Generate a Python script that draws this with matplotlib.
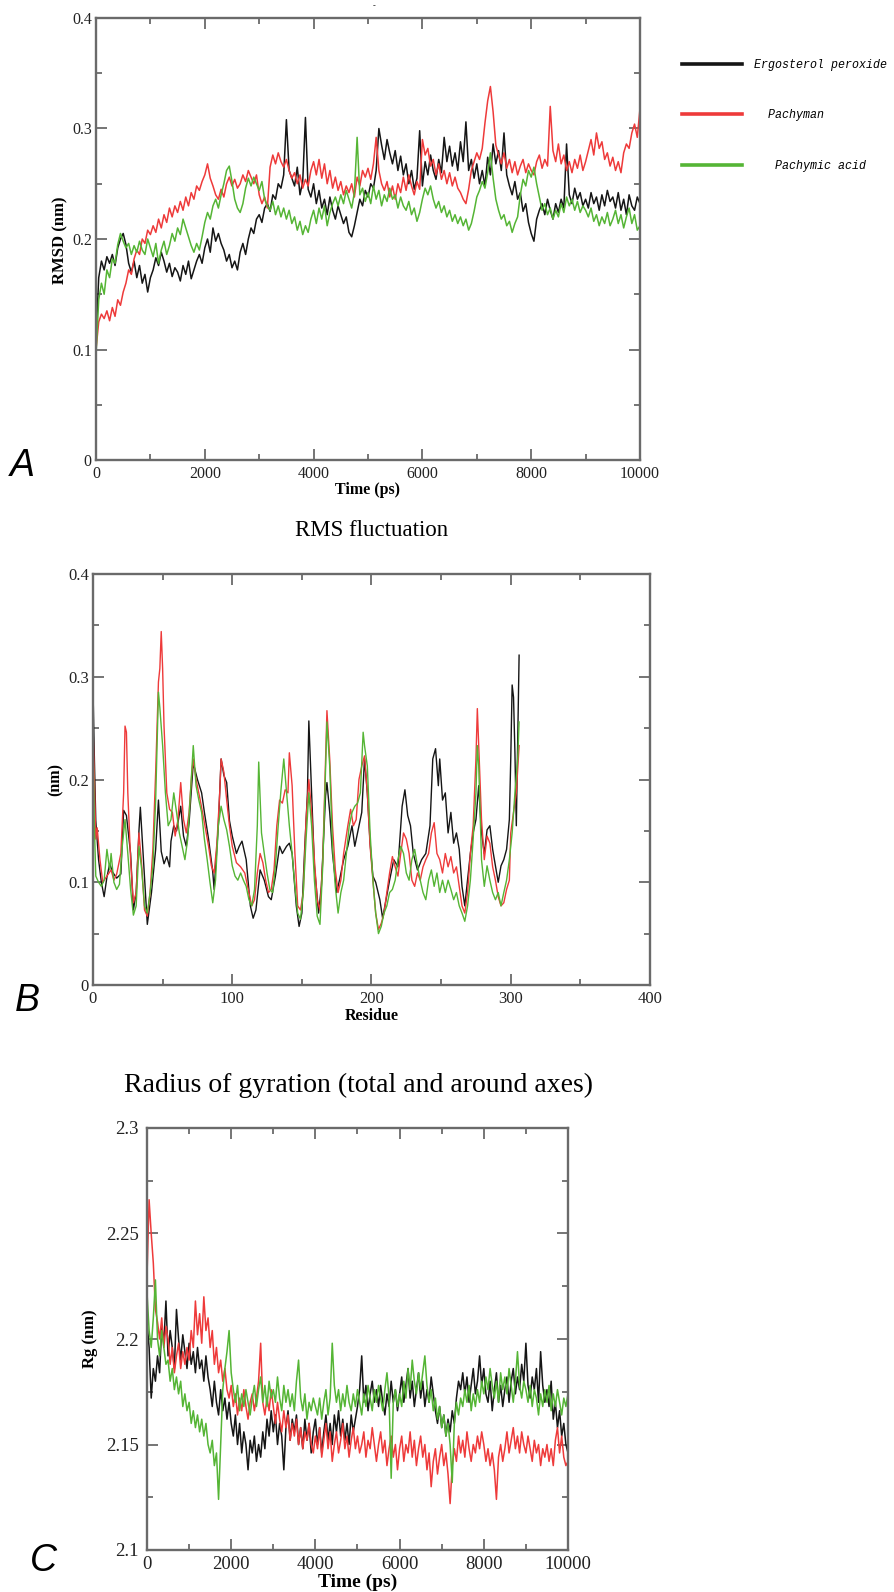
import numpy as np
import matplotlib
matplotlib.use("Agg")
import matplotlib.pyplot as plt
from matplotlib.ticker import MultipleLocator, FuncFormatter

W, H = 895, 1592

# ---------------- data ----------------
series_names = ["Ergosterol peroxide", "Pachyman", "Pachymic acid"]
series_colors = ["#151515", "#ee3a3a", "#55b535"]

# Panel A: RMSD (nm), one value every 50 ps from 0 to 10000 ps
rmsd_ergosterol = [
    0.110, 0.165, 0.180, 0.172, 0.184, 0.178, 0.186, 0.176, 0.192, 0.200,
    0.205, 0.195, 0.178, 0.170, 0.180, 0.165, 0.176, 0.160, 0.168, 0.152,
    0.165, 0.172, 0.183, 0.176, 0.188, 0.180, 0.170, 0.178, 0.166, 0.174,
    0.170, 0.162, 0.176, 0.168, 0.180, 0.164, 0.172, 0.180, 0.186, 0.178,
    0.192, 0.200, 0.188, 0.210, 0.198, 0.205, 0.196, 0.190, 0.180, 0.186,
    0.174, 0.180, 0.172, 0.188, 0.196, 0.186, 0.200, 0.210, 0.205, 0.218,
    0.222, 0.215, 0.228, 0.232, 0.225, 0.240, 0.236, 0.250, 0.246, 0.258,
    0.308, 0.262, 0.255, 0.248, 0.265, 0.240, 0.252, 0.310, 0.245, 0.238,
    0.250, 0.232, 0.244, 0.228, 0.236, 0.222, 0.238, 0.226, 0.218, 0.230,
    0.222, 0.214, 0.220, 0.206, 0.202, 0.212, 0.224, 0.236, 0.230, 0.244,
    0.238, 0.250, 0.246, 0.262, 0.300, 0.285, 0.272, 0.290, 0.278, 0.268,
    0.280, 0.262, 0.275, 0.258, 0.268, 0.250, 0.262, 0.245, 0.255, 0.298,
    0.248, 0.270, 0.258, 0.276, 0.262, 0.254, 0.272, 0.260, 0.292, 0.270,
    0.284, 0.266, 0.278, 0.262, 0.288, 0.270, 0.306, 0.262, 0.272, 0.255,
    0.268, 0.250, 0.262, 0.248, 0.274, 0.258, 0.286, 0.268, 0.280, 0.262,
    0.296, 0.258, 0.248, 0.240, 0.252, 0.236, 0.242, 0.225, 0.232, 0.215,
    0.205, 0.198, 0.218, 0.226, 0.232, 0.222, 0.236, 0.226, 0.218, 0.232,
    0.224, 0.236, 0.228, 0.286, 0.240, 0.232, 0.246, 0.236, 0.242, 0.230,
    0.236, 0.228, 0.242, 0.232, 0.238, 0.226, 0.240, 0.230, 0.244, 0.234,
    0.238, 0.228, 0.242, 0.226, 0.236, 0.222, 0.240, 0.230, 0.226, 0.238,
    0.232,
]
rmsd_pachyman = [
    0.100, 0.125, 0.132, 0.128, 0.135, 0.126, 0.138, 0.130, 0.145, 0.140,
    0.152, 0.160, 0.172, 0.168, 0.182, 0.190, 0.186, 0.200, 0.196, 0.208,
    0.204, 0.212, 0.206, 0.218, 0.210, 0.222, 0.215, 0.228, 0.220, 0.230,
    0.224, 0.234, 0.226, 0.238, 0.230, 0.242, 0.236, 0.248, 0.244, 0.252,
    0.258, 0.268, 0.255, 0.248, 0.240, 0.236, 0.245, 0.238, 0.250, 0.256,
    0.248, 0.254, 0.246, 0.250, 0.258, 0.252, 0.262, 0.256, 0.250, 0.258,
    0.240, 0.232, 0.238, 0.228, 0.265, 0.276, 0.268, 0.278, 0.270, 0.265,
    0.272, 0.262, 0.255, 0.260, 0.250, 0.258, 0.246, 0.254, 0.248, 0.262,
    0.270, 0.258, 0.272, 0.255, 0.268, 0.250, 0.262, 0.246, 0.256, 0.244,
    0.252, 0.240, 0.248, 0.242, 0.250, 0.238, 0.256, 0.248, 0.262, 0.256,
    0.264, 0.254, 0.268, 0.292, 0.262, 0.250, 0.244, 0.252, 0.238, 0.248,
    0.236, 0.250, 0.242, 0.256, 0.244, 0.258, 0.248, 0.240, 0.252, 0.245,
    0.290, 0.276, 0.282, 0.266, 0.272, 0.258, 0.268, 0.254, 0.262, 0.250,
    0.260, 0.248, 0.256, 0.246, 0.242, 0.236, 0.232, 0.245, 0.262, 0.270,
    0.278, 0.272, 0.282, 0.305, 0.325, 0.338, 0.315, 0.285, 0.276, 0.268,
    0.278, 0.264, 0.272, 0.260, 0.270, 0.258, 0.266, 0.272, 0.260, 0.268,
    0.262, 0.258, 0.270, 0.276, 0.264, 0.272, 0.266, 0.320, 0.280, 0.270,
    0.286, 0.268, 0.276, 0.262, 0.270, 0.260, 0.272, 0.264, 0.276, 0.262,
    0.270, 0.280, 0.290, 0.276, 0.296, 0.282, 0.288, 0.272, 0.278, 0.266,
    0.274, 0.262, 0.270, 0.260, 0.278, 0.286, 0.282, 0.296, 0.304, 0.292,
    0.318,
]
rmsd_pachymic = [
    0.095, 0.145, 0.160, 0.150, 0.172, 0.165, 0.182, 0.178, 0.195, 0.205,
    0.198, 0.192, 0.196, 0.186, 0.194, 0.188, 0.198, 0.190, 0.186, 0.200,
    0.192, 0.184, 0.196, 0.178, 0.190, 0.198, 0.186, 0.194, 0.205, 0.198,
    0.210, 0.204, 0.218, 0.210, 0.202, 0.194, 0.188, 0.196, 0.190, 0.202,
    0.215, 0.224, 0.218, 0.230, 0.236, 0.228, 0.240, 0.250, 0.262, 0.266,
    0.252, 0.236, 0.228, 0.224, 0.232, 0.246, 0.255, 0.248, 0.256, 0.250,
    0.244, 0.252, 0.236, 0.230, 0.226, 0.234, 0.222, 0.230, 0.220, 0.228,
    0.218, 0.226, 0.214, 0.220, 0.208, 0.216, 0.204, 0.212, 0.206, 0.218,
    0.226, 0.214, 0.228, 0.218, 0.230, 0.212, 0.224, 0.232, 0.238, 0.230,
    0.240, 0.232, 0.244, 0.236, 0.228, 0.242, 0.292, 0.240, 0.246, 0.234,
    0.242, 0.232, 0.248, 0.236, 0.244, 0.230, 0.240, 0.234, 0.246, 0.236,
    0.240, 0.228, 0.238, 0.230, 0.226, 0.234, 0.222, 0.228, 0.216, 0.224,
    0.236, 0.246, 0.240, 0.248, 0.236, 0.228, 0.234, 0.224, 0.230, 0.220,
    0.226, 0.216, 0.222, 0.214, 0.220, 0.212, 0.218, 0.208, 0.214, 0.225,
    0.238, 0.244, 0.252, 0.246, 0.260, 0.278, 0.255, 0.236, 0.226, 0.218,
    0.222, 0.212, 0.216, 0.206, 0.214, 0.220, 0.240, 0.254, 0.248, 0.262,
    0.256, 0.265, 0.250, 0.238, 0.226, 0.232, 0.222, 0.228, 0.218, 0.226,
    0.220, 0.232, 0.224, 0.238, 0.230, 0.236, 0.226, 0.234, 0.224, 0.230,
    0.226, 0.220, 0.228, 0.216, 0.222, 0.212, 0.220, 0.214, 0.224, 0.212,
    0.218, 0.226, 0.214, 0.222, 0.210, 0.220, 0.228, 0.214, 0.222, 0.208,
    0.212,
]

# Panel B: RMSF (nm) as (residue, value) pairs
rmsf_ergosterol = [
    (0, 0.288), (1, 0.220), (2, 0.160), (4, 0.122), (6, 0.100), (8, 0.086),
    (10, 0.105), (12, 0.118), (14, 0.110), (17, 0.104), (20, 0.108), (22, 0.170),
    (24, 0.165), (27, 0.128), (29, 0.073), (31, 0.090), (33, 0.150), (34, 0.173),
    (36, 0.128), (39, 0.059), (42, 0.090), (45, 0.132), (47, 0.180), (49, 0.130),
    (51, 0.118), (53, 0.125), (55, 0.115), (56, 0.140), (58, 0.155), (60, 0.150),
    (63, 0.174), (65, 0.145), (67, 0.135), (69, 0.158), (72, 0.216), (75, 0.200),
    (78, 0.187), (80, 0.168), (83, 0.142), (86, 0.110), (87, 0.093), (90, 0.155),
    (92, 0.220), (94, 0.204), (96, 0.197), (98, 0.160), (100, 0.145), (103, 0.128),
    (105, 0.135), (107, 0.140), (110, 0.122), (113, 0.077), (115, 0.065), (117, 0.073),
    (120, 0.112), (123, 0.102), (126, 0.086), (128, 0.083), (131, 0.106), (134, 0.135),
    (136, 0.128), (139, 0.135), (141, 0.138), (143, 0.128), (146, 0.077), (148, 0.057),
    (150, 0.070), (152, 0.132), (154, 0.187), (155, 0.257), (157, 0.187), (159, 0.116),
    (162, 0.070), (164, 0.096), (167, 0.184), (168, 0.197), (170, 0.168), (172, 0.128),
    (175, 0.090), (177, 0.102), (180, 0.122), (183, 0.135), (186, 0.155), (188, 0.135),
    (190, 0.148), (193, 0.168), (195, 0.220), (197, 0.187), (199, 0.138), (201, 0.106),
    (203, 0.100), (206, 0.083), (208, 0.065), (210, 0.080), (213, 0.102), (216, 0.122),
    (219, 0.115), (222, 0.174), (224, 0.190), (226, 0.165), (228, 0.155), (230, 0.128),
    (233, 0.112), (236, 0.122), (239, 0.128), (242, 0.155), (244, 0.220), (246, 0.230),
    (248, 0.194), (249, 0.220), (251, 0.180), (253, 0.187), (255, 0.148), (257, 0.168),
    (259, 0.138), (261, 0.148), (263, 0.132), (265, 0.096), (267, 0.077), (269, 0.102),
    (271, 0.128), (273, 0.148), (275, 0.161), (277, 0.194), (279, 0.148), (281, 0.128),
    (283, 0.151), (285, 0.155), (287, 0.132), (289, 0.116), (291, 0.100), (293, 0.116),
    (295, 0.122), (297, 0.132), (299, 0.161), (300, 0.220), (301, 0.292), (302, 0.280),
    (303, 0.226), (304, 0.155), (305, 0.240), (306, 0.321),
]
rmsf_pachyman = [
    (0, 0.252), (1, 0.200), (2, 0.142), (3, 0.153), (5, 0.122), (7, 0.100),
    (10, 0.106), (13, 0.112), (15, 0.102), (17, 0.108), (20, 0.128), (22, 0.187),
    (23, 0.252), (24, 0.246), (25, 0.187), (27, 0.122), (29, 0.080), (31, 0.090),
    (33, 0.148), (35, 0.116), (37, 0.073), (39, 0.067), (41, 0.090), (43, 0.132),
    (45, 0.207), (46, 0.252), (47, 0.295), (48, 0.308), (49, 0.344), (50, 0.308),
    (51, 0.252), (53, 0.187), (55, 0.171), (57, 0.168), (59, 0.145), (61, 0.161),
    (63, 0.197), (65, 0.161), (67, 0.148), (69, 0.168), (71, 0.207), (72, 0.220),
    (74, 0.200), (77, 0.180), (80, 0.158), (83, 0.135), (85, 0.116), (87, 0.109),
    (89, 0.138), (91, 0.187), (92, 0.220), (94, 0.207), (96, 0.180), (98, 0.155),
    (100, 0.135), (103, 0.119), (106, 0.115), (109, 0.109), (112, 0.090), (114, 0.077),
    (116, 0.083), (118, 0.109), (120, 0.128), (122, 0.119), (124, 0.102), (126, 0.090),
    (128, 0.093), (130, 0.112), (132, 0.155), (134, 0.180), (136, 0.177), (138, 0.190),
    (140, 0.187), (141, 0.226), (143, 0.194), (145, 0.128), (147, 0.077), (149, 0.073),
    (151, 0.090), (153, 0.161), (155, 0.200), (157, 0.168), (159, 0.122), (161, 0.083),
    (163, 0.073), (165, 0.122), (167, 0.220), (168, 0.267), (170, 0.220), (172, 0.155),
    (174, 0.112), (176, 0.090), (178, 0.102), (180, 0.128), (183, 0.155), (185, 0.171),
    (187, 0.155), (189, 0.161), (191, 0.200), (193, 0.213), (195, 0.223), (197, 0.187),
    (199, 0.135), (201, 0.102), (203, 0.070), (205, 0.054), (207, 0.060), (209, 0.070),
    (211, 0.090), (213, 0.109), (215, 0.125), (217, 0.115), (219, 0.106), (221, 0.128),
    (223, 0.148), (225, 0.142), (227, 0.128), (229, 0.102), (231, 0.096), (233, 0.109),
    (235, 0.102), (237, 0.115), (239, 0.122), (241, 0.128), (243, 0.148), (245, 0.158),
    (247, 0.128), (249, 0.122), (251, 0.109), (253, 0.128), (255, 0.115), (257, 0.125),
    (259, 0.109), (261, 0.115), (263, 0.096), (265, 0.077), (267, 0.070), (269, 0.090),
    (271, 0.128), (273, 0.155), (275, 0.220), (276, 0.269), (277, 0.233), (279, 0.161),
    (281, 0.122), (283, 0.145), (285, 0.138), (287, 0.115), (289, 0.102), (291, 0.086),
    (293, 0.077), (295, 0.080), (297, 0.093), (299, 0.102), (300, 0.148), (302, 0.168),
    (304, 0.187), (306, 0.233),
]
rmsf_pachymic = [
    (0, 0.240), (1, 0.155), (2, 0.106), (4, 0.100), (6, 0.096), (8, 0.102),
    (10, 0.132), (12, 0.112), (13, 0.128), (15, 0.100), (17, 0.093), (19, 0.098),
    (21, 0.135), (23, 0.161), (25, 0.128), (27, 0.093), (29, 0.068), (31, 0.077),
    (33, 0.135), (35, 0.112), (37, 0.077), (39, 0.070), (41, 0.090), (43, 0.115),
    (45, 0.180), (47, 0.285), (48, 0.270), (50, 0.233), (52, 0.187), (54, 0.155),
    (56, 0.161), (58, 0.187), (60, 0.168), (62, 0.148), (64, 0.135), (66, 0.122),
    (68, 0.142), (70, 0.187), (72, 0.233), (74, 0.194), (76, 0.180), (78, 0.168),
    (80, 0.142), (82, 0.122), (84, 0.100), (86, 0.080), (88, 0.102), (90, 0.155),
    (92, 0.174), (94, 0.161), (96, 0.151), (98, 0.135), (100, 0.116), (102, 0.106),
    (104, 0.102), (106, 0.109), (108, 0.102), (110, 0.096), (112, 0.083), (114, 0.077),
    (116, 0.093), (118, 0.155), (119, 0.217), (121, 0.148), (123, 0.128), (125, 0.109),
    (127, 0.093), (129, 0.090), (131, 0.116), (133, 0.155), (135, 0.190), (137, 0.220),
    (139, 0.187), (141, 0.155), (143, 0.128), (145, 0.096), (147, 0.070), (149, 0.064),
    (151, 0.090), (153, 0.142), (155, 0.187), (157, 0.155), (159, 0.102), (161, 0.067),
    (163, 0.059), (165, 0.116), (167, 0.207), (168, 0.256), (170, 0.213), (172, 0.135),
    (174, 0.096), (176, 0.070), (178, 0.090), (180, 0.102), (182, 0.128), (184, 0.155),
    (186, 0.168), (188, 0.174), (190, 0.177), (192, 0.187), (194, 0.246), (195, 0.233),
    (197, 0.213), (199, 0.148), (201, 0.102), (203, 0.070), (205, 0.050), (207, 0.057),
    (209, 0.070), (211, 0.077), (213, 0.090), (215, 0.093), (217, 0.102), (219, 0.122),
    (221, 0.135), (223, 0.128), (225, 0.109), (227, 0.102), (229, 0.122), (231, 0.132),
    (233, 0.116), (235, 0.102), (237, 0.090), (239, 0.083), (241, 0.102), (243, 0.112),
    (245, 0.096), (247, 0.109), (249, 0.090), (251, 0.102), (253, 0.090), (255, 0.102),
    (257, 0.093), (259, 0.083), (261, 0.090), (263, 0.077), (265, 0.070), (267, 0.062),
    (269, 0.077), (271, 0.102), (273, 0.142), (275, 0.187), (276, 0.233), (277, 0.213),
    (279, 0.122), (281, 0.096), (283, 0.116), (285, 0.102), (287, 0.090), (289, 0.083),
    (291, 0.090), (293, 0.077), (295, 0.090), (297, 0.102), (299, 0.122), (301, 0.148),
    (303, 0.187), (305, 0.220), (306, 0.256),
]

# Panel C: radius of gyration (nm), one value every 50 ps
rg_ergosterol = [
    2.208, 2.196, 2.172, 2.186, 2.180, 2.192, 2.184, 2.206, 2.198, 2.218,
    2.192, 2.204, 2.196, 2.186, 2.214, 2.200, 2.190, 2.202, 2.194, 2.186,
    2.198, 2.188, 2.194, 2.184, 2.196, 2.186, 2.190, 2.180, 2.192, 2.182,
    2.176, 2.168, 2.180, 2.170, 2.164, 2.176, 2.166, 2.172, 2.162, 2.170,
    2.160, 2.154, 2.164, 2.150, 2.160, 2.146, 2.156, 2.150, 2.138, 2.152,
    2.146, 2.154, 2.142, 2.150, 2.144, 2.156, 2.148, 2.162, 2.154, 2.166,
    2.156, 2.164, 2.150, 2.160, 2.154, 2.138, 2.158, 2.166, 2.152, 2.162,
    2.156, 2.164, 2.150, 2.158, 2.148, 2.162, 2.152, 2.160, 2.146, 2.156,
    2.162, 2.150, 2.158, 2.146, 2.156, 2.164, 2.152, 2.160, 2.150, 2.164,
    2.156, 2.166, 2.154, 2.162, 2.152, 2.160, 2.150, 2.164, 2.156, 2.162,
    2.168, 2.176, 2.192, 2.170, 2.178, 2.166, 2.174, 2.180, 2.170, 2.176,
    2.168, 2.178, 2.170, 2.164, 2.174, 2.168, 2.180, 2.170, 2.176, 2.166,
    2.174, 2.182, 2.170, 2.178, 2.186, 2.172, 2.180, 2.168, 2.176, 2.184,
    2.172, 2.180, 2.168, 2.176, 2.170, 2.182, 2.174, 2.166, 2.160, 2.168,
    2.158, 2.164, 2.154, 2.162, 2.156, 2.166, 2.160, 2.172, 2.180, 2.176,
    2.184, 2.174, 2.182, 2.170, 2.178, 2.186, 2.174, 2.180, 2.192, 2.178,
    2.186, 2.174, 2.170, 2.180, 2.166, 2.176, 2.184, 2.170, 2.178, 2.168,
    2.176, 2.182, 2.170, 2.180, 2.186, 2.174, 2.182, 2.176, 2.188, 2.180,
    2.198, 2.178, 2.172, 2.182, 2.176, 2.186, 2.170, 2.194, 2.178, 2.170,
    2.176, 2.168, 2.180, 2.162, 2.170, 2.158, 2.166, 2.154, 2.160, 2.150,
    2.146,
]
rg_pachyman = [
    2.230, 2.266, 2.250, 2.236, 2.214, 2.208, 2.200, 2.210, 2.196, 2.206,
    2.200, 2.188, 2.196, 2.184, 2.192, 2.198, 2.186, 2.194, 2.188, 2.196,
    2.190, 2.204, 2.196, 2.218, 2.202, 2.212, 2.198, 2.220, 2.204, 2.210,
    2.196, 2.204, 2.188, 2.196, 2.184, 2.190, 2.180, 2.186, 2.176, 2.172,
    2.178, 2.168, 2.174, 2.164, 2.172, 2.166, 2.176, 2.168, 2.162, 2.170,
    2.174, 2.166, 2.172, 2.180, 2.198, 2.170, 2.164, 2.172, 2.166, 2.176,
    2.168, 2.160, 2.170, 2.162, 2.156, 2.166, 2.158, 2.164, 2.152, 2.160,
    2.154, 2.162, 2.150, 2.158, 2.148, 2.156, 2.152, 2.160, 2.150, 2.146,
    2.154, 2.148, 2.158, 2.144, 2.152, 2.160, 2.148, 2.156, 2.142, 2.150,
    2.156, 2.146, 2.152, 2.160, 2.148, 2.154, 2.144, 2.152, 2.158, 2.148,
    2.154, 2.146, 2.150, 2.156, 2.144, 2.152, 2.148, 2.158, 2.150, 2.142,
    2.150, 2.156, 2.146, 2.152, 2.140, 2.148, 2.154, 2.144, 2.150, 2.138,
    2.148, 2.154, 2.142, 2.150, 2.146, 2.156, 2.144, 2.152, 2.140, 2.148,
    2.154, 2.144, 2.150, 2.138, 2.146, 2.130, 2.142, 2.148, 2.136, 2.144,
    2.150, 2.140, 2.146, 2.136, 2.122, 2.140, 2.148, 2.142, 2.154, 2.146,
    2.152, 2.144, 2.156, 2.148, 2.142, 2.150, 2.146, 2.154, 2.148, 2.156,
    2.150, 2.142, 2.148, 2.140, 2.146, 2.138, 2.124, 2.144, 2.150, 2.142,
    2.148, 2.156, 2.146, 2.152, 2.158, 2.148, 2.154, 2.146, 2.156, 2.150,
    2.146, 2.154, 2.148, 2.142, 2.152, 2.146, 2.150, 2.140, 2.148, 2.144,
    2.150, 2.142, 2.148, 2.140, 2.152, 2.158, 2.146, 2.154, 2.144, 2.140,
    2.142,
]
rg_pachymic = [
    2.222, 2.204, 2.196, 2.210, 2.228, 2.200, 2.192, 2.204, 2.196, 2.188,
    2.190, 2.180, 2.186, 2.176, 2.182, 2.174, 2.180, 2.168, 2.174, 2.166,
    2.170, 2.160, 2.166, 2.158, 2.164, 2.156, 2.162, 2.154, 2.160, 2.150,
    2.146, 2.152, 2.140, 2.146, 2.124, 2.150, 2.176, 2.186, 2.194, 2.204,
    2.184, 2.176, 2.170, 2.178, 2.166, 2.174, 2.168, 2.176, 2.170, 2.164,
    2.172, 2.178, 2.168, 2.176, 2.182, 2.170, 2.178, 2.168, 2.180, 2.172,
    2.176, 2.170, 2.182, 2.172, 2.166, 2.178, 2.170, 2.176, 2.168, 2.174,
    2.166, 2.180, 2.190, 2.172, 2.166, 2.174, 2.162, 2.170, 2.166, 2.172,
    2.168, 2.164, 2.172, 2.162, 2.170, 2.176, 2.164, 2.172, 2.198, 2.178,
    2.170, 2.176, 2.166, 2.174, 2.168, 2.178, 2.170, 2.166, 2.174, 2.168,
    2.176, 2.170, 2.164, 2.174, 2.168, 2.178, 2.172, 2.166, 2.176, 2.170,
    2.178, 2.172, 2.166, 2.176, 2.184, 2.172, 2.134, 2.170, 2.176, 2.168,
    2.174, 2.168, 2.180, 2.172, 2.186, 2.176, 2.190, 2.180, 2.174, 2.184,
    2.176, 2.184, 2.192, 2.178, 2.170, 2.176, 2.166, 2.172, 2.162, 2.168,
    2.158, 2.164, 2.154, 2.160, 2.150, 2.132, 2.160, 2.170, 2.164, 2.172,
    2.168, 2.176, 2.170, 2.178, 2.166, 2.174, 2.168, 2.176, 2.170, 2.180,
    2.174, 2.182, 2.176, 2.186, 2.178, 2.172, 2.180, 2.170, 2.184, 2.176,
    2.182, 2.174, 2.186, 2.178, 2.170, 2.180, 2.194, 2.178, 2.172, 2.180,
    2.176, 2.170, 2.178, 2.168, 2.176, 2.172, 2.164, 2.174, 2.168, 2.176,
    2.170, 2.178, 2.166, 2.174, 2.168, 2.176, 2.170, 2.164, 2.172, 2.168,
    2.174,
]

time_step_ps = 50

# ---------------- figure ----------------
plt.rcParams["font.family"] = ["Liberation Serif", "DejaVu Serif"]
fig = plt.figure(figsize=(W / 100, H / 100), dpi=100)
fig.patch.set_facecolor("white")

SPINE = "#6a6a6a"


def px_box(x0, y0, x1, y1):
    return [x0 / W, 1 - y1 / H, (x1 - x0) / W, (y1 - y0) / H]


def px_text(x, y, s, **kw):
    fig.text(x / W, 1 - y / H, s, ha="center", va="center", **kw)


def style_axes(ax, xmaj, xmin, ymaj, ymin, labelsize, ypad):
    for sp in ax.spines.values():
        sp.set_color(SPINE)
        sp.set_linewidth(1.7)
    ax.xaxis.set_major_locator(MultipleLocator(xmaj))
    ax.xaxis.set_minor_locator(MultipleLocator(xmin))
    ax.yaxis.set_major_locator(MultipleLocator(ymaj))
    ax.yaxis.set_minor_locator(MultipleLocator(ymin))
    ax.tick_params(which="both", direction="in", top=True, right=True,
                   color=SPINE, width=1.3)
    ax.tick_params(which="major", length=8)
    ax.tick_params(which="minor", length=4.5)
    ax.tick_params(axis="x", pad=4, labelsize=labelsize, labelcolor="#222222")
    ax.tick_params(axis="y", pad=ypad, labelsize=labelsize, labelcolor="#222222")
    fmt = FuncFormatter(lambda v, _: f"{round(v, 3):g}")
    ax.xaxis.set_major_formatter(fmt)
    ax.yaxis.set_major_formatter(fmt)


# Panel A: RMSD
ax_a = fig.add_axes(px_box(96, 18, 640, 460))
rmsd_series = [rmsd_ergosterol, rmsd_pachyman, rmsd_pachymic]
lines_a = []
for vals, color in zip(rmsd_series, series_colors):
    t = np.arange(len(vals)) * time_step_ps
    (ln,) = ax_a.plot(t, vals, color=color, lw=1.1)
    lines_a.append(ln)
ax_a.set_xlim(0, 10000)
ax_a.set_ylim(0, 0.4)
style_axes(ax_a, 2000, 1000, 0.1, 0.05, 11.5, 3)

px_text(60, 240, "RMSD (nm)", rotation=90, fontsize=12, fontweight="bold")
px_text(368, 490, "Time (ps)", fontsize=11.5, fontweight="bold")
px_text(374, 6, "-", fontsize=6)
px_text(22, 466, "A", fontsize=27, style="italic",
        family=["Liberation Sans Narrow", "Liberation Sans"])

legend_labels = [series_names[0], "  " + series_names[1], "   " + series_names[2]]
leg = fig.legend(lines_a, legend_labels, loc="upper left",
                 bbox_to_anchor=(676 / W, 1 - 53 / H), frameon=False,
                 borderpad=0, handlelength=5.2, handletextpad=1.0,
                 labelspacing=3.3,
                 prop={"family": "Liberation Mono", "style": "italic", "size": 8.4})
for h in leg.get_lines():
    h.set_linewidth(2.6)

# Panel B: RMSF
ax_b = fig.add_axes(px_box(93, 574, 650, 985))
rmsf_series = [rmsf_ergosterol, rmsf_pachyman, rmsf_pachymic]
for pairs, color in zip(rmsf_series, series_colors):
    res, val = np.array(pairs).T
    ax_b.plot(res, val, color=color, lw=1.0)
ax_b.set_xlim(0, 400)
ax_b.set_ylim(0, 0.4)
style_axes(ax_b, 100, 50, 0.1, 0.05, 12, 3)

px_text(372, 530, "RMS fluctuation", fontsize=16.5)
px_text(372, 1016, "Residue", fontsize=11.5, fontweight="bold")
px_text(56, 780, "(nm)", rotation=90, fontsize=11.5, fontweight="bold")
px_text(27, 1001, "B", fontsize=27, style="italic",
        family=["Liberation Sans Narrow", "Liberation Sans"])

# Panel C: radius of gyration
ax_c = fig.add_axes(px_box(147, 1128, 568, 1550))
rg_series = [rg_ergosterol, rg_pachyman, rg_pachymic]
for vals, color in zip(rg_series, series_colors):
    t = np.arange(len(vals)) * time_step_ps
    ax_c.plot(t, vals, color=color, lw=1.1)
ax_c.set_xlim(0, 10000)
ax_c.set_ylim(2.1, 2.3)
style_axes(ax_c, 2000, 1000, 0.05, 0.025, 13.5, 6)

px_text(358, 1085, "Radius of gyration (total and around axes)", fontsize=20)
px_text(358, 1582, "Time (ps)", fontsize=14, fontweight="bold")
px_text(90, 1339, "Rg (nm)", rotation=90, fontsize=12, fontweight="bold")
px_text(44, 1561, "C", fontsize=27, style="italic",
        family=["Liberation Sans Narrow", "Liberation Sans"])

fig.savefig("out.png", dpi=100)
